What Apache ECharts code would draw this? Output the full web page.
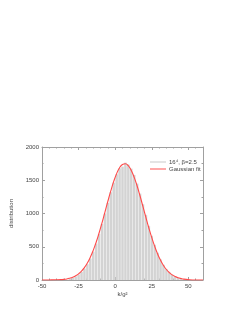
<!DOCTYPE html>
<html><head><meta charset="utf-8">
<script src="https://cdn.jsdelivr.net/npm/echarts@6/dist/echarts.min.js"></script>
<style>html,body{margin:0;padding:0;background:#fff}#c{width:245px;height:317px}</style>
</head><body><div id="c"></div>
<script>
var binCenters = [-31,-29,-27,-25,-23,-21,-19,-17,-15,-13,-11,-9,-7,-5,-3,-1,1,3,5,7,9,11,13,15,17,19,21,23,25,27,29,31,33,35,37,39,41,43,45,47];
var histValues = [20,34,55,82,120,172,238,322,425,548,690,842,1000,1160,1320,1465,1590,1680,1705,1765,1735,1675,1580,1450,1300,1140,980,815,665,530,410,310,228,163,115,78,52,33,20,12];
var fitX = [-50,-45,-40,-37,-35,-33,-31,-29,-27,-25,-23,-21,-19,-17,-15,-13,-11,-9,-7,-5,-3,-1,1,3,5,7,9,11,13,15,17,19,21,23,25,27,29,31,33,35,37,39,41,43,45,47,50,55,60];
var fitY = [0.3,1,3,6,10,16,27,42,63,93,133,187,255,342,446,568,707,859,1021,1184,1340,1482,1600,1688,1738,1748,1718,1648,1544,1413,1263,1102,940,782,636,505,391,296,219,158,112,77,52,34,22,13,6,1,0.2];
var xTicks = [-50,-25,0,25,50];
var yTicks = [0,500,1000,1500,2000];
var seriesNames = ['16\u2074, \u03b2=2.5','Gaussian fit'];

var chart = echarts.init(document.getElementById('c'));
var font = 'Liberation Sans, Arial, sans-serif';
var axCol = '#a0a0a0';
var txtCol = '#444';
function mk(pos, labels){
  return {
    type:'value', position:pos, min:-50, max:60, interval:25,
    axisLine:{show:true,onZero:false,lineStyle:{color:axCol,width:1}},
    axisTick:{show:true,inside:true,length:3,lineStyle:{color:axCol}},
    minorTick:{show:true,splitNumber:5,length:1.5,lineStyle:{color:axCol}},
    splitLine:{show:false},
    axisLabel:{show:labels,fontSize:6,color:txtCol,fontFamily:font,margin:3,
      showMaxLabel:false, formatter:function(v){return xTicks.indexOf(v)>=0 ? String(v) : '';}},
    name: labels ? 'k/g\u00b2' : '', nameLocation:'middle', nameGap:11,
    nameTextStyle:{fontSize:6,color:txtCol,fontFamily:font}
  };
}
function mky(pos, labels){
  return {
    type:'value', position:pos, min:0, max:2000, interval:500,
    axisLine:{show:true,onZero:false,lineStyle:{color:axCol,width:1}},
    axisTick:{show:true,inside:true,length:3,lineStyle:{color:axCol}},
    minorTick:{show:true,splitNumber:2,length:1.5,lineStyle:{color:axCol}},
    splitLine:{show:false},
    axisLabel:{show:labels,fontSize:6,color:txtCol,fontFamily:font,margin:3,
      formatter:function(v){return yTicks.indexOf(v)>=0 ? String(v) : '';}},
    name: labels ? 'distribution' : '', nameLocation:'middle', nameGap:20, nameRotate:90,
    nameTextStyle:{fontSize:6,color:txtCol,fontFamily:font}
  };
}
chart.setOption({
  animation:false,
  grid:{left:42,right:42,top:147,bottom:37,containLabel:false},
  xAxis:[mk('bottom', true), mk('top', false)],
  yAxis:[mky('left',true), mky('right',false)],
  legend:{
    left:145, top:154, orient:'vertical', itemGap:1, itemWidth:16, itemHeight:1,
    textStyle:{fontSize:6,color:txtCol,fontFamily:font,padding:[0,0,0,-2]},
    data:[{name:seriesNames[0],icon:'rect',itemStyle:{color:'#c8c8c8'}},
          {name:seriesNames[1],icon:'rect',itemStyle:{color:'#ff5050'}}]
  },
  series:[
    {name:seriesNames[0],type:'bar',barWidth:2.5,itemStyle:{color:'#d3d3d3'},
     data:binCenters.map(function(x,i){return [x,histValues[i]];})},
    {name:seriesNames[1],type:'line',smooth:true,showSymbol:false,
     lineStyle:{color:'#ff4a4a',width:1.1},itemStyle:{color:'#ff4a4a'},
     data:fitX.map(function(x,i){return [x,fitY[i]];})}
  ]
});
</script></body></html>
